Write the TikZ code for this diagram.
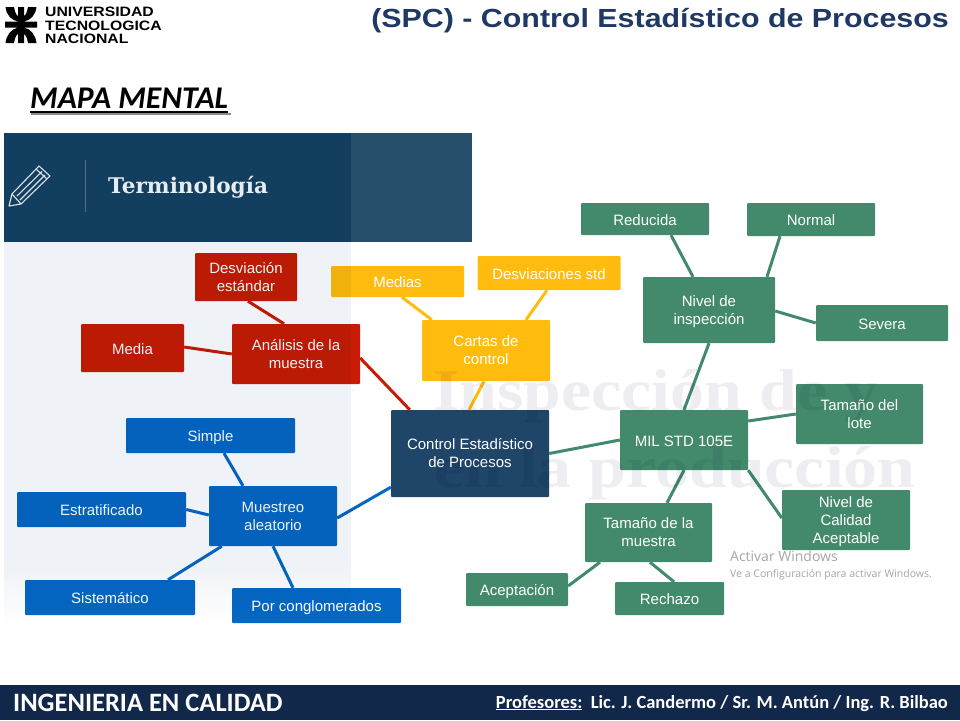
\documentclass[tikz,border=0pt]{standalone}
\usepackage{fontspec}
\setmainfont{Liberation Sans}
\newfontfamily\carlito{Carlito}
\newfontfamily\slabfont{DejaVu Serif}
\newfontfamily\winfont{Open Sans}
\newfontfamily\widefont[FakeStretch=1.16]{Liberation Sans}
\newfontfamily\markfont[FakeStretch=1.15]{Liberation Serif}

\definecolor{navy}{HTML}{1F4568}
\definecolor{bannerdark}{HTML}{123F5F}
\definecolor{bannerlight}{HTML}{254F6B}
\definecolor{panelgray}{HTML}{EFF2F6}
\definecolor{titleblue}{HTML}{1F3864}
\definecolor{footerblue}{HTML}{12284A}
\definecolor{redbox}{HTML}{C81C06}
\definecolor{bluebox}{HTML}{0568C4}
\definecolor{yellowbox}{HTML}{FFBC0E}
\definecolor{greenbox}{HTML}{438A6D}
\definecolor{watermark}{HTML}{EEEDF2}

\begin{document}
\begin{tikzpicture}[x=1pt, y=-1pt,
  box/.style={inner sep=0pt, rounded corners=1pt,
    text=white, align=center, font=\fontsize{15}{18}\selectfont},
  single/.style={text height=15.5pt, text depth=3pt},
  redn/.style={box, fill=redbox},
  bluen/.style={box, fill=bluebox},
  yellown/.style={box, fill=yellowbox},
  greenn/.style={box, fill=greenbox},
  navyn/.style={box, fill=navy},
  redl/.style={draw=redbox, line width=3pt},
  bluel/.style={draw=bluebox, line width=3pt},
  yellowl/.style={draw=yellowbox, line width=3pt},
  greenl/.style={draw=greenbox, line width=3pt},
  plain/.style={inner sep=0pt}]
  \useasboundingbox (0,0) rectangle (960,720);
  \fill[white] (0,0) rectangle (960,720);

  % header
  \fill[black] (5.5,7) -- (14,7) .. controls (15,12) and (16,15) .. (18,16) -- (18,7)
    -- (24,7) -- (24,16) .. controls (26,15) and (27,12) .. (28,7) -- (36.5,7)
    .. controls (35.5,15) and (31,20) .. (24,21.5) -- (37,21.5) -- (37,27.5) -- (24,27.5)
    .. controls (31,29) and (35.5,35) .. (36.5,43) -- (28,43)
    .. controls (27,38) and (26,35) .. (24,34) -- (24,43) -- (18,43) -- (18,34)
    .. controls (16,35) and (15,38) .. (14,43) -- (5.5,43)
    .. controls (6.5,35) and (11,29) .. (18,27.5) -- (5,27.5) -- (5,21.5) -- (18,21.5)
    .. controls (11,20) and (6.5,15) .. (5.5,7) -- cycle;
  \node[plain, anchor=west, align=left, font={\fontsize{13.6}{13.6}\selectfont\widefont\bfseries}] (uni) at (45,25.5)
    {UNIVERSIDAD\\TECNOLOGICA\\NACIONAL};
  \node[plain, anchor=east, text=titleblue, font={\fontsize{26.2}{28}\selectfont\widefont\bfseries}] (title) at (949,21)
    {(SPC) - Control Estadístico de Procesos};
  \node[plain, anchor=base west, font={\fontsize{31.6}{34}\selectfont\carlito\bfseries\itshape}] (mapa) at (30,108) {MAPA MENTAL};
  \draw[black!45, line width=1.6pt] (31,114) -- (231,114);
  \draw[black, line width=1.8pt] (mapa.base west |- 0,112) -- (mapa.base east |- 0,112);

  % banner
  \fill[bannerdark] (4,133) rectangle (351,242);
  \fill[bannerlight] (351,133) rectangle (472,242);
  \draw[bannerlight!80!white, line width=1pt] (85.5,160) -- (85.5,212);
  \draw[white!85!bannerdark, line width=1.1pt, line join=round] (9,206) -- (12,194) -- (39,166)
    -- (50,176) -- (21,204) -- cycle (12,194) -- (21,204) (36,169) -- (47,179)
    (17,196) -- (42,171.5) (20,200) -- (45,175);
  \node[plain, anchor=west, text=white!90!bannerdark, font={\fontsize{21.6}{24}\selectfont\slabfont\bfseries}] (term) at (108,187.5) {Terminología};

  % red
  \node[redn, minimum width=102pt, minimum height=48pt] (desv) at (246,277) {Desviación\\estándar};
  \node[redn, single, minimum width=103pt, minimum height=48pt] (media) at (132.5,348) {Media};
  \node[redn, minimum width=128pt, minimum height=60pt] (analisis) at (296,354) {Análisis de la\\muestra};
  % blue
  \node[bluen, single, minimum width=169pt, minimum height=35pt] (simple) at (210.5,435.5) {Simple};
  \node[bluen, single, minimum width=169pt, minimum height=35pt] (estrat) at (101.5,509.5) {Estratificado};
  \node[bluen, minimum width=128pt, minimum height=60pt] (muestreo) at (273,516) {Muestreo\\aleatorio};
  \node[bluen, single, minimum width=170pt, minimum height=35pt] (sist) at (110,597.5) {Sistemático};
  \node[bluen, single, minimum width=169pt, minimum height=35pt] (congl) at (316.5,605.5) {Por conglomerados};
  % centre
  \node[navyn, minimum width=158pt, minimum height=87pt] (control) at (470,453.5) {Control Estadístico\\de Procesos};
  % yellow
  \node[yellown, single, minimum width=133pt, minimum height=31pt] (medias) at (397.5,281.5) {Medias};
  \node[yellown, single, minimum width=143pt, minimum height=34pt] (desvstd) at (549,273) {Desviaciones std};
  \node[yellown, minimum width=128pt, minimum height=61pt] (cartas) at (486,350.5) {Cartas de\\control};
  % green
  \node[greenn, single, minimum width=128pt, minimum height=32pt] (reducida) at (645,219) {Reducida};
  \node[greenn, single, minimum width=128pt, minimum height=33pt] (normal) at (811,219.5) {Normal};
  \node[greenn, minimum width=132pt, minimum height=66pt] (nivel) at (709,310) {Nivel de\\\smash{inspección}};
  \node[greenn, single, minimum width=132pt, minimum height=36pt] (severa) at (882,323) {Severa};
  \node[greenn, single, minimum width=128pt, minimum height=60pt] (mil) at (684,440) {MIL STD 105E};
  \node[greenn, minimum width=127pt, minimum height=60pt] (lote) at (859.5,414) {Tamaño del\\lote};
  \node[greenn, minimum width=128pt, minimum height=60pt] (nca) at (846,520) {Nivel de\\Calidad\\\smash{Aceptable}};
  \node[greenn, minimum width=127pt, minimum height=59pt] (tamm) at (648.5,532.5) {Tamaño de la\\muestra};
  \node[greenn, single, minimum width=102pt, minimum height=33pt] (acept) at (517,589.5) {Aceptación};
  \node[greenn, single, minimum width=109pt, minimum height=33pt] (rech) at (669.5,598.5) {Rechazo};

  \draw[redl] ([xshift=2pt]desv.south) -- ([xshift=-12pt]analisis.north);
  \draw[redl] ([yshift=1pt]media.east) -- (analisis.west);
  \draw[redl] ([yshift=-4pt]analisis.east) -- ([xshift=19pt]control.north west);

  \draw[bluel] ([xshift=13.5pt]simple.south) -- ([xshift=-30pt]muestreo.north);
  \draw[bluel] (estrat.east) -- ([yshift=1pt]muestreo.west);
  \draw[bluel] ([xshift=13pt]muestreo.south west) -- ([xshift=58pt]sist.north);
  \draw[bluel] (muestreo.south) -- ([xshift=-23.5pt]congl.north);
  \draw[bluel] ([yshift=-2pt]muestreo.east) -- ([yshift=10pt]control.south west);

  \draw[yellowl] ([xshift=-2pt]cartas.south) -- ([xshift=-1pt]control.north);
  \draw[yellowl] ([xshift=4.5pt]medias.south) -- ([xshift=10pt]cartas.north west);
  \draw[yellowl] ([xshift=-2pt]desvstd.south) -- ([xshift=40pt]cartas.north);

  \draw[greenl] (control.east) -- (mil.west);
  \draw[greenl] (mil.north) -- (nivel.south);
  \draw[greenl] ([xshift=26pt]reducida.south) -- ([xshift=-16pt]nivel.north);
  \draw[greenl] ([xshift=-31pt]normal.south) -- ([xshift=58pt]nivel.north);
  \draw[greenl] ([yshift=-1pt]nivel.east) -- (severa.west);
  \draw[greenl] ([yshift=19pt]mil.east) -- (lote.west);
  \draw[greenl] (mil.south east) -- ([yshift=2pt]nca.west);
  \draw[greenl] (mil.south) -- ([xshift=18.5pt]tamm.north);
  \draw[greenl] ([xshift=-48.5pt]tamm.south) -- ([yshift=3.5pt]acept.east);
  \draw[greenl] ([xshift=1.5pt]tamm.south) -- ([xshift=4.5pt]rech.north);

  % panel and faded text lie over the map
  \begin{scope}[blend mode=multiply]
    \fill[panelgray] (4,242) rectangle (351,565);
    \shade[top color=panelgray, bottom color=white] (4,565) rectangle (351,625);
    \node[plain, anchor=base west, text=watermark, font={\fontsize{59}{60}\selectfont\markfont\bfseries}] (mark1) at (433,410) {Inspección de y};
    \node[plain, anchor=base west, text=watermark, font={\fontsize{59}{60}\selectfont\markfont\bfseries}] (mark2) at (434,487) {en la producción};
  \end{scope}

  % windows notice
  \node[plain, anchor=base west, text=black!35, font={\fontsize{14}{15}\selectfont\winfont}] (win1) at (730,561) {Activar Windows};
  \node[plain, anchor=base west, text=black!35, font={\fontsize{10.5}{12}\selectfont\winfont}] (win2) at (730,577) {Ve a Configuración para activar Windows.};

  % footer
  \fill[footerblue] (0,685) rectangle (960,720);
  \node[plain, anchor=base west, text=white, font={\fontsize{26.5}{28}\selectfont\carlito\bfseries}] (carrera) at (13,711) {INGENIERIA EN CALIDAD};
  \node[plain, anchor=base east, text=white, font={\fontsize{18.5}{20}\selectfont\carlito\bfseries}] (prof) at (948,708)
    {\underline{Profesores:}\ \ Lic. J. Candermo / Sr. M. Antún / Ing. R. Bilbao};
\end{tikzpicture}
\end{document}
